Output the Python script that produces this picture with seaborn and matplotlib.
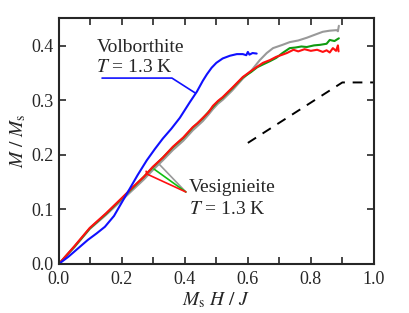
import numpy as np
import pandas as pd
import matplotlib
matplotlib.use("Agg")
import matplotlib.pyplot as plt
import seaborn as sns
from matplotlib.ticker import MultipleLocator

# ---- data ----
volb_x = [0.0, 0.03, 0.06, 0.092, 0.12, 0.146, 0.175, 0.2, 0.21, 0.225, 0.25, 0.279, 0.305,
          0.33, 0.357, 0.384, 0.416, 0.438, 0.457, 0.47, 0.485, 0.5, 0.52, 0.543, 0.565, 0.584,
          0.595, 0.6, 0.605, 0.615, 0.628]
volb_y = [0.0, 0.013, 0.028, 0.044, 0.056, 0.068, 0.088, 0.113, 0.123, 0.138, 0.163, 0.19, 0.211,
          0.23, 0.248, 0.268, 0.297, 0.316, 0.336, 0.348, 0.36, 0.369, 0.377, 0.382, 0.385, 0.385,
          0.383, 0.389, 0.384, 0.387, 0.386]

red_x = [0.0, 0.05, 0.098, 0.15, 0.2, 0.235, 0.27, 0.298, 0.33, 0.362, 0.395, 0.425, 0.44,
         0.457, 0.475, 0.489, 0.505, 0.52, 0.55, 0.584, 0.61, 0.63, 0.648, 0.67, 0.69, 0.71,
         0.724, 0.745, 0.76, 0.78, 0.8, 0.82, 0.838, 0.85, 0.86, 0.87, 0.88, 0.886, 0.888]
red_y = [0.0, 0.033, 0.066, 0.093, 0.121, 0.141, 0.16, 0.178, 0.195, 0.215, 0.232, 0.251, 0.258,
         0.268, 0.278, 0.29, 0.299, 0.306, 0.323, 0.343, 0.354, 0.362, 0.369, 0.374, 0.38, 0.384,
         0.387, 0.393, 0.39, 0.394, 0.391, 0.393, 0.389, 0.392, 0.388, 0.396, 0.391, 0.401, 0.39]

green_x = [0.0, 0.05, 0.098, 0.15, 0.2, 0.235, 0.27, 0.298, 0.33, 0.362, 0.395, 0.425, 0.44,
           0.457, 0.475, 0.489, 0.505, 0.52, 0.55, 0.584, 0.61, 0.63, 0.648, 0.67, 0.69, 0.71,
           0.733, 0.75, 0.77, 0.787, 0.81, 0.829, 0.85, 0.86, 0.875, 0.889]
green_y = [0.0, 0.032, 0.065, 0.092, 0.12, 0.14, 0.16, 0.177, 0.195, 0.214, 0.231, 0.25, 0.258,
           0.267, 0.279, 0.288, 0.298, 0.305, 0.322, 0.342, 0.352, 0.361, 0.366, 0.372, 0.378,
           0.387, 0.396, 0.397, 0.399, 0.398, 0.401, 0.402, 0.404, 0.411, 0.409, 0.414]

gray_x = [0.0, 0.05, 0.098, 0.15, 0.2, 0.235, 0.27, 0.298, 0.33, 0.362, 0.395, 0.425, 0.44,
          0.457, 0.475, 0.489, 0.505, 0.52, 0.55, 0.584, 0.61, 0.638, 0.66, 0.68, 0.71, 0.733,
          0.76, 0.787, 0.81, 0.838, 0.86, 0.882, 0.886, 0.889]
gray_y = [0.0, 0.031, 0.064, 0.09, 0.117, 0.136, 0.155, 0.172, 0.19, 0.209, 0.226, 0.245, 0.253,
          0.262, 0.274, 0.284, 0.294, 0.301, 0.318, 0.34, 0.354, 0.374, 0.387, 0.396, 0.402,
          0.407, 0.41, 0.415, 0.42, 0.426, 0.428, 0.429, 0.427, 0.437]

dash_x = [0.6, 0.9, 1.0]
dash_y = [0.222, 0.333, 0.333]

xticks = [0.0, 0.2, 0.4, 0.6, 0.8, 1.0]
yticks = [0.0, 0.1, 0.2, 0.3, 0.4]

sns.set_style("ticks")
plt.rcParams['font.family'] = ['Liberation Serif', 'DejaVu Serif']
plt.rcParams['mathtext.fontset'] = 'stix'

df = pd.concat([
    pd.DataFrame({"x": gray_x, "y": gray_y, "s": "gray"}),
    pd.DataFrame({"x": green_x, "y": green_y, "s": "green"}),
    pd.DataFrame({"x": red_x, "y": red_y, "s": "red"}),
    pd.DataFrame({"x": volb_x, "y": volb_y, "s": "blue"}),
])
palette = {"gray": "#999999", "green": "#109a10", "red": "#ff1010", "blue": "#1010ff"}

fig = plt.figure(figsize=(4.09, 3.13), dpi=100)
ax = fig.add_axes([0.144, 0.157, 0.770, 0.785])

sns.lineplot(data=df, x="x", y="y", hue="s", palette=palette, sort=False,
             estimator=None, linewidth=1.5, legend=False, ax=ax)
sns.lineplot(x=dash_x, y=dash_y, color="black", linewidth=1.4, dashes=False,
             linestyle=(0, (5, 4)), ax=ax)

# leader lines
ax.plot([0.137, 0.359, 0.432], [0.341, 0.341, 0.314], color="#1010ff", lw=1.2)
ax.plot([0.403, 0.32], [0.132, 0.182], color="#999999", lw=1.2)
ax.plot([0.403, 0.302], [0.132, 0.174], color="#10c010", lw=1.2)
ax.plot([0.403, 0.279, 0.277], [0.132, 0.165, 0.17], color="#ff1010", lw=1.2)

ax.text(0.119, 0.397, "Volborthite", fontsize=14, va="center", ha="left")
ax.text(0.119, 0.361, r"$T$ = 1.3 K", fontsize=14, va="center", ha="left")
ax.text(0.413, 0.141, "Vesignieite", fontsize=14, va="center", ha="left")
ax.text(0.413, 0.100, r"$T$ = 1.3 K", fontsize=14, va="center", ha="left")

ax.set_xlim(0, 1.0)
ax.set_ylim(0, 0.451)
ax.set_xticks(xticks)
ax.set_xticklabels([f"{v:.1f}" for v in xticks])
ax.xaxis.set_minor_locator(MultipleLocator(0.1))
ax.set_yticks(yticks)
ax.set_yticklabels([f"{v:.1f}" for v in yticks])
ax.tick_params(which="both", direction="in", top=True, right=True, labelsize=13,
               width=1.2, length=5)
ax.tick_params(axis="x", pad=5)
ax.tick_params(axis="y", pad=4)
for sp in ax.spines.values():
    sp.set_linewidth(1.5)
    sp.set_visible(True)

ax.set_xlabel(r"$M_{\mathrm{s}}\ H\ /\ J$", fontsize=14, labelpad=2)
ax.set_ylabel(r"$M\ /\ M_{\mathrm{s}}$", fontsize=14, labelpad=2)

fig.savefig("out.png", dpi=100)
